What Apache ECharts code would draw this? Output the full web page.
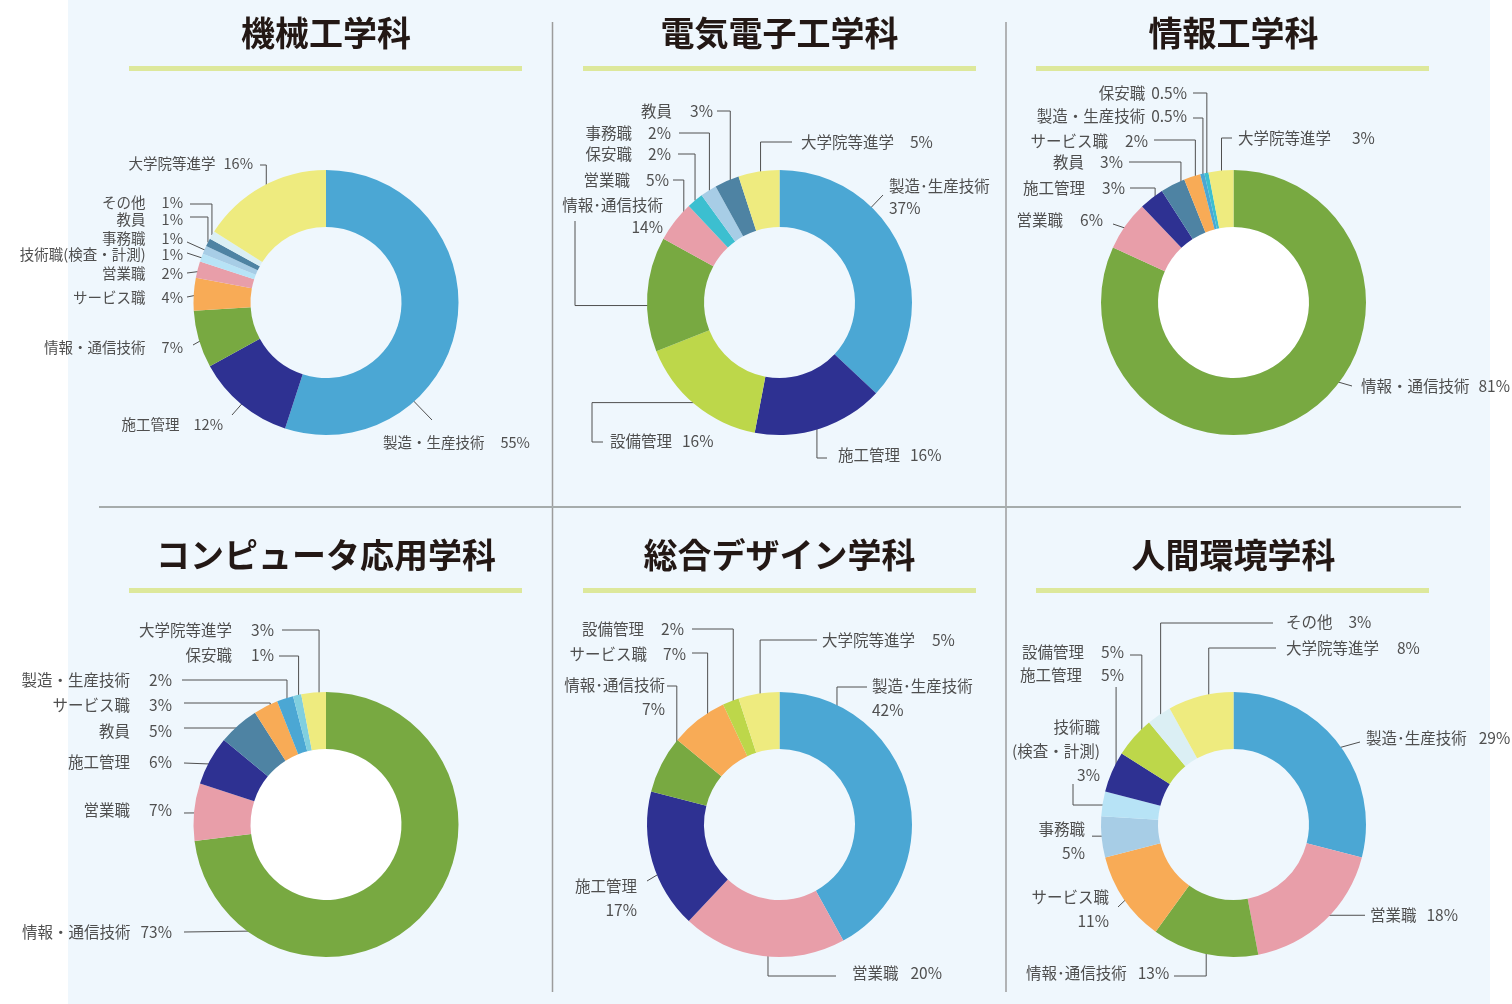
<!DOCTYPE html>
<html lang="ja">
<head>
<meta charset="utf-8">
<title>学科別 卒業生の進路</title>
<script src="https://cdn.jsdelivr.net/npm/echarts@6/dist/echarts.min.js"></script>
<style>
  html, body { margin: 0; padding: 0; background: #ffffff; }
  #chart { width: 1512px; height: 1004px; }
</style>
</head>
<body>
<div id="chart"></div>
<script>
// Department titles
const deptTitles = ['機械工学科', '電気電子工学科', '情報工学科', 'コンピュータ応用学科', '総合デザイン学科', '人間環境学科'];

// 機械工学科
const mechJobs = ['製造・生産技術', '施工管理', '情報・通信技術', 'サービス職', '営業職', '技術職(検査・計測)', '事務職', '教員', 'その他', '大学院等進学'];
const mechShare = [55, 12, 7, 4, 2, 1, 1, 1, 1, 16];

// 電気電子工学科
const elecJobs = ['製造・生産技術', '施工管理', '設備管理', '情報・通信技術', '営業職', '保安職', '事務職', '教員', '大学院等進学'];
const elecShare = [37, 16, 16, 14, 5, 2, 2, 3, 5];

// 情報工学科
const infoJobs = ['情報・通信技術', '営業職', '施工管理', '教員', 'サービス職', '製造・生産技術', '保安職', '大学院等進学'];
const infoShare = [81, 6, 3, 3, 2, 0.5, 0.5, 3];

// コンピュータ応用学科
const compJobs = ['情報・通信技術', '営業職', '施工管理', '教員', 'サービス職', '製造・生産技術', '保安職', '大学院等進学'];
const compShare = [73, 7, 6, 5, 3, 2, 1, 3];

// 総合デザイン学科
const desJobs = ['製造・生産技術', '営業職', '施工管理', '情報・通信技術', 'サービス職', '設備管理', '大学院等進学'];
const desShare = [42, 20, 17, 7, 7, 2, 5];

// 人間環境学科
const envJobs = ['製造・生産技術', '営業職', '情報・通信技術', 'サービス職', '事務職', '技術職(検査・計測)', '施工管理', '設備管理', 'その他', '大学院等進学'];
const envShare = [29, 18, 13, 11, 5, 3, 5, 5, 3, 8];

// ---- styling / layout ----
const FONT = '"Noto Sans CJK JP", "Noto Sans", sans-serif';
const TEXT = '#4f4f4f';
const LEADER = '#505050';

const jobColor = {
  '製造・生産技術': '#4ba7d4',
  '施工管理': '#2e3192',
  '設備管理': '#bdd74a',
  '情報・通信技術': '#78a941',
  '営業職': '#e89ea9',
  'サービス職': '#f8ab56',
  '保安職': '#3cbfd0',
  '事務職': '#a7cde6',
  '技術職(検査・計測)': '#b7e3f6',
  '教員': '#4e83a3',
  'その他': '#dbeff4',
  '大学院等進学': '#eeeb7f'
};

const centers = [[326, 302.5], [779.5, 302.5], [1233.5, 302.5], [326, 824.5], [779.5, 824.5], [1233.5, 824.5]];
const ring = [75.5, 132.5];

// label placement: at = anchor of text block, side r = right edge / l = left edge,
// line = leader bends (null -> take the slice point coordinate), t/d = where in the slice it starts
const mechSpots = {
  '製造・生産技術': { at: [383, 442], side: 'l', gap: 16, line: [[432, 420]], t: 0.7, d: 0.78 },
  '施工管理': { at: [223, 424], side: 'r', gap: 14, line: [[232, 415]] },
  '情報・通信技術': { at: [183, 347], side: 'r', gap: 16, line: [[193, 345]] },
  'サービス職': { at: [183, 297], side: 'r', gap: 16, line: [[187, 297]], d: 0.9 },
  '営業職': { at: [183, 273], side: 'r', gap: 16, line: [[187, 273]], d: 0.9 },
  '技術職(検査・計測)': { at: [183, 254], side: 'r', gap: 16, line: [[187, 253]], d: 0.95 },
  '事務職': { at: [183, 238], side: 'r', gap: 16, line: [[187, 242]], d: 0.95 },
  '教員': { at: [183, 219], side: 'r', gap: 16, line: [[null, 217], [190, 217]], d: 1 },
  'その他': { at: [183, 202], side: 'r', gap: 16, line: [[null, 204], [190, 204]], d: 1 },
  '大学院等進学': { at: [253, 163], side: 'r', gap: 8, line: [[null, 165], [260, 165]] }
};

const elecSpots = {
  '製造・生産技術': { at: [889, 197.5], side: 'l', br: true, nd: true, line: [[883, 195]], t: 0.33 },
  '施工管理': { at: [838, 455], side: 'l', gap: 10, line: [[null, 458], [827, 458]], d: 0.8 },
  '設備管理': { at: [610, 441], side: 'l', gap: 10, line: [[592, null], [592, 442], [603, 442]], t: 0.44 },
  '情報・通信技術': { at: [663, 216], side: 'r', br: true, nd: true, line: [[575, null], [575, 221]], t: 0.4, d: 0.8 },
  '営業職': { at: [669, 180], side: 'r', gap: 16, line: [[null, 180], [673, 180]], d: 0.8 },
  '保安職': { at: [671, 154], side: 'r', gap: 16, line: [[null, 154], [678, 154]], d: 1 },
  '事務職': { at: [671, 133], side: 'r', gap: 16, line: [[null, 133], [679, 133]], d: 0.97 },
  '教員': { at: [713, 111], side: 'r', gap: 18, line: [[null, 111], [717, 111]] },
  '大学院等進学': { at: [801, 142], side: 'l', gap: 16, line: [[null, 142], [792, 142]], d: 0.8 }
};

const infoSpots = {
  '情報・通信技術': { at: [1361, 386], side: 'l', gap: 9, line: [[1352, 386]], t: 0.44, d: 0.76 },
  '営業職': { at: [1103, 220], side: 'r', gap: 17, line: [[1113, 224]] },
  '施工管理': { at: [1125, 188], side: 'r', gap: 17, line: [[null, 188], [1130, 188]], d: 0.9 },
  '教員': { at: [1123, 162], side: 'r', gap: 16, line: [[null, 162], [1129, 162]], t: 0.7 },
  'サービス職': { at: [1148, 141], side: 'r', gap: 17, line: [[null, 140], [1154, 140]], d: 0.82 },
  '製造・生産技術': { at: [1187, 116], side: 'r', gap: 6, line: [[null, 118], [1193, 118]], d: 0.95 },
  '保安職': { at: [1187, 93], side: 'r', gap: 6, line: [[null, 93], [1193, 93]], d: 0.96 },
  '大学院等進学': { at: [1238, 138], side: 'l', gap: 21, line: [[null, 138], [1232, 138]], d: 0.89 }
};

const compSpots = {
  '情報・通信技術': { at: [172, 932], side: 'r', gap: 10, line: [[184, 932]], t: 0.81, d: 0.9 },
  '営業職': { at: [172, 810], side: 'r', gap: 19, line: [[184, 813]], d: 0.84 },
  '施工管理': { at: [172, 762], side: 'r', gap: 19, line: [[184, 763]], d: 0.87 },
  '教員': { at: [172, 731], side: 'r', gap: 19, line: [[null, 728], [184, 728]], d: 0.75 },
  'サービス職': { at: [172, 705], side: 'r', gap: 19, line: [[null, 703], [184, 703]], d: 0.83 },
  '製造・生産技術': { at: [172, 680], side: 'r', gap: 19, line: [[null, 680], [182, 680]], d: 0.89 },
  '保安職': { at: [274, 655], side: 'r', gap: 19, line: [[null, 656], [279, 656]], d: 0.88 },
  '大学院等進学': { at: [274, 630], side: 'r', gap: 19, line: [[null, 630], [282, 630]], t: 0.7, d: 0.83 }
};

const desSpots = {
  '製造・生産技術': { at: [872, 698.5], side: 'l', br: true, nd: true, line: [[null, 687], [867, 687]], t: 0.18, d: 0.88 },
  '営業職': { at: [852, 973], side: 'l', gap: 12, line: [[null, 976], [836, 976]], t: 0.475, d: 0.82 },
  '施工管理': { at: [637, 898], side: 'r', br: true, line: [[647, 881]], t: 0.41, d: 0.82 },
  '情報・通信技術': { at: [665, 697], side: 'r', br: true, nd: true, line: [[null, 686], [667, 686]], t: 0.81, d: 0.87 },
  'サービス職': { at: [686, 654], side: 'r', gap: 16, line: [[null, 653], [692, 653]], t: 0.63, d: 0.9 },
  '設備管理': { at: [684, 629], side: 'r', gap: 17, line: [[null, 629], [692, 629]], d: 0.88 },
  '大学院等進学': { at: [822, 640], side: 'l', gap: 17, line: [[null, 640], [817, 640]] }
};

const envSpots = {
  '製造・生産技術': { at: [1366, 738], side: 'l', gap: 12, nd: true, line: [[1360, 742]], d: 0.79 },
  '営業職': { at: [1370, 915], side: 'l', gap: 10, line: [[1365, null]], d: 0.86 },
  '情報・通信技術': { at: [1026, 973], side: 'l', gap: 11, nd: true, line: [[null, 976], [1174, 976]], d: 0.87 },
  'サービス職': { at: [1109, 909], side: 'r', br: true, line: [[1118, 907]], d: 0.82 },
  '事務職': { at: [1085, 841], side: 'r', br: true, line: [[1092, null]] },
  '技術職(検査・計測)': { at: [1100, 751], side: 'r', rows: ['技術職', '(検査・計測)'], line: [[1073, null], [1073, 784]], d: 0.86 },
  '施工管理': { at: [1124, 675], side: 'r', gap: 19, line: [[null, 687]], d: 0.92 },
  '設備管理': { at: [1124, 652], side: 'r', gap: 17, line: [[null, 655], [1130, 655]], t: 0.7, d: 0.95 },
  'その他': { at: [1286, 622], side: 'l', gap: 16, line: [[null, 623], [1273, 623]], d: 0.95 },
  '大学院等進学': { at: [1286, 648], side: 'l', gap: 18, line: [[null, 648], [1276, 648]], t: 0.6 }
};

const depts = [
  { jobs: mechJobs, share: mechShare, spots: mechSpots, fs: 14.5, lh: 20 },
  { jobs: elecJobs, share: elecShare, spots: elecSpots, fs: 15.5, lh: 22 },
  { jobs: infoJobs, share: infoShare, spots: infoSpots, fs: 15.5, lh: 22 },
  { jobs: compJobs, share: compShare, spots: compSpots, fs: 15.5, lh: 24, colors: { '保安職': '#80cfdf' } },
  { jobs: desJobs, share: desShare, spots: desSpots, fs: 15.5, lh: 24 },
  { jobs: envJobs, share: envShare, spots: envSpots, fs: 15.5, lh: 24 }
];

const chart = echarts.init(document.getElementById('chart'));

function richStyles(fs, lh) {
  const base = { fontSize: fs, lineHeight: lh, color: TEXT, fontFamily: FONT };
  const rich = {
    n: base,
    p: base,
    nR: Object.assign({}, base, { align: 'right' }),
    pR: Object.assign({}, base, { align: 'right' })
  };
  for (let g = 0; g <= 30; g++) rich['g' + g] = { width: g, lineHeight: lh };
  return rich;
}

function labelText(spot, name, value) {
  const pct = value + '%';
  const shown = spot.nd ? name.replace(/・/g, '･') : name;
  const r = spot.side === 'r' ? 'R' : '';
  if (spot.rows) return spot.rows.map((s) => `{n${r}|${s}}`).join('\n') + `\n{p${r}|${pct}}`;
  if (spot.br) return `{n${r}|${shown}}\n{p${r}|${pct}}`;
  return `{n|${shown}}{g${spot.gap}|}{p|${pct}}`;
}

// point inside the slice where the leader line starts
function anchorPoint(params, t, d) {
  let lay = null;
  try {
    lay = chart.getModel().getSeriesByIndex(params.seriesIndex).getData().getItemLayout(params.dataIndex);
  } catch (e) {
    lay = null;
  }
  if (lay && lay.r != null) {
    const ang = lay.startAngle + (lay.endAngle - lay.startAngle) * t;
    const r = lay.r0 + (lay.r - lay.r0) * d;
    return [lay.cx + r * Math.cos(ang), lay.cy + r * Math.sin(ang)];
  }
  const p = params.labelLinePoints;
  const dx = p[1][0] - p[0][0], dy = p[1][1] - p[0][1];
  const len = Math.hypot(dx, dy) || 1;
  const back = (1 - d) * (ring[1] - ring[0]);
  return [p[0][0] - dx / len * back, p[0][1] - dy / len * back];
}

const series = depts.map((dept, i) => ({
  type: 'pie',
  center: centers[i],
  radius: ring,
  startAngle: 90,
  clockwise: true,
  avoidLabelOverlap: false,
  silent: true,
  data: dept.jobs.map((job, j) => ({
    name: job,
    value: dept.share[j],
    itemStyle: { color: (dept.colors && dept.colors[job]) || jobColor[job] }
  })),
  label: {
    show: true,
    position: 'outside',
    color: TEXT,
    fontFamily: FONT,
    formatter: (p) => labelText(dept.spots[p.name], p.name, p.value),
    rich: richStyles(dept.fs, dept.lh)
  },
  labelLine: {
    show: true,
    showAbove: true,
    length: 8,
    length2: 8,
    lineStyle: { color: LEADER, width: 1 }
  },
  labelLayout: function (params) {
    const spot = dept.spots[dept.jobs[params.dataIndex]];
    const a = anchorPoint(params, spot.t == null ? 0.5 : spot.t, spot.d == null ? 0.85 : spot.d);
    const pts = [a].concat(spot.line.map((q) => [q[0] == null ? a[0] : q[0], q[1] == null ? a[1] : q[1]]));
    return {
      x: spot.at[0],
      y: spot.at[1],
      align: spot.side === 'r' ? 'right' : 'left',
      verticalAlign: 'middle',
      labelLinePoints: pts
    };
  }
}));

// decorations: panel, dividers, title underlines, white centre of two rings
const barSpans = [[129, 522], [583, 976], [1036, 1429]];
const barRows = [66, 588];
const graphics = [
  { type: 'rect', z: -10, silent: true, shape: { x: 68, y: 0, width: 1422, height: 1004 }, style: { fill: '#eff7fd' } },
  { type: 'line', z: -5, silent: true, shape: { x1: 552.5, y1: 22, x2: 552.5, y2: 992 }, style: { stroke: '#9c9c9c', lineWidth: 1.5 } },
  { type: 'line', z: -5, silent: true, shape: { x1: 1006, y1: 22, x2: 1006, y2: 992 }, style: { stroke: '#9c9c9c', lineWidth: 1.5 } },
  { type: 'line', z: -5, silent: true, shape: { x1: 99, y1: 507, x2: 1461, y2: 507 }, style: { stroke: '#a6acac', lineWidth: 2 } }
];
barRows.forEach((y) => {
  barSpans.forEach((s) => {
    graphics.push({ type: 'rect', z: -5, silent: true, shape: { x: s[0], y: y, width: s[1] - s[0], height: 5 }, style: { fill: '#dde89b' } });
  });
});
[2, 3].forEach((i) => {
  graphics.push({ type: 'circle', z: -5, silent: true, shape: { cx: centers[i][0], cy: centers[i][1], r: ring[0] }, style: { fill: '#ffffff' } });
});

const option = {
  animation: false,
  textStyle: { fontFamily: FONT },
  title: deptTitles.map((t, i) => ({
    text: t,
    left: centers[i][0],
    top: i < 3 ? 16 : 538,
    textAlign: 'center',
    padding: 0,
    textStyle: { fontSize: 34, fontWeight: 'bold', color: '#231815', fontFamily: FONT }
  })),
  graphic: { elements: graphics },
  series: series
};

chart.setOption(option);
</script>
</body>
</html>
